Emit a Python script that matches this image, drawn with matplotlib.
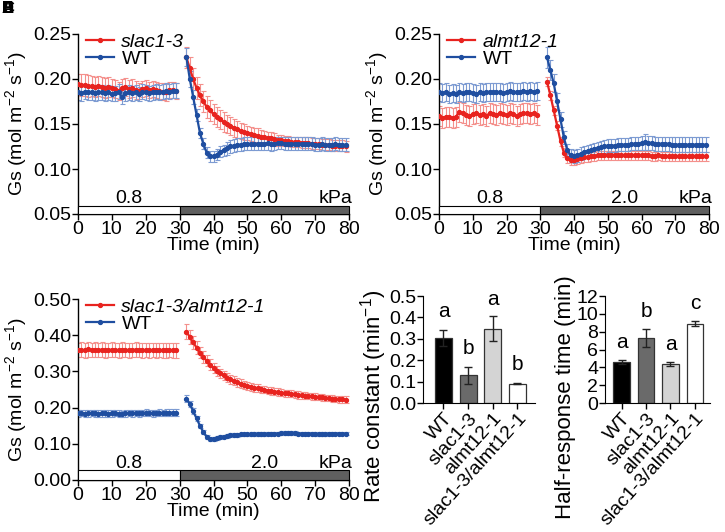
import matplotlib
matplotlib.use("Agg")
import matplotlib.pyplot as plt
from matplotlib.patches import Rectangle
import matplotlib.transforms as mtransforms

plt.rcParams['font.family'] = ['Liberation Sans', 'DejaVu Sans']
plt.rcParams['font.size'] = 14
plt.rcParams['mathtext.default'] = 'regular'

# ---------------- data ----------------
t_pre = list(range(0, 30))
t_post = list(range(32, 80))

# Panel 1: slac1-3 vs WT
p1_mut_pre = [0.194, 0.193, 0.193, 0.192, 0.192, 0.191, 0.192, 0.191, 0.190, 0.191,
              0.190, 0.189, 0.187, 0.190, 0.191, 0.189, 0.190, 0.188, 0.187, 0.189,
              0.190, 0.188, 0.189, 0.188, 0.187, 0.186, 0.185, 0.188, 0.188, 0.187]
p1_mut_pre_err = [0.012, 0.012, 0.012, 0.012, 0.011, 0.011, 0.011, 0.011, 0.011, 0.011,
                  0.010, 0.010, 0.010, 0.010, 0.010, 0.010, 0.010, 0.010, 0.009, 0.009,
                  0.009, 0.009, 0.009, 0.009, 0.009, 0.009, 0.009, 0.009, 0.009, 0.009]
p1_wt_pre = [0.185, 0.184, 0.186, 0.185, 0.185, 0.184, 0.185, 0.185, 0.184, 0.185,
             0.183, 0.184, 0.186, 0.180, 0.184, 0.185, 0.184, 0.185, 0.183, 0.186,
             0.185, 0.184, 0.185, 0.186, 0.185, 0.186, 0.187, 0.186, 0.187, 0.187]
p1_wt_pre_err = [0.008] * 30
p1_mut_post = [0.224, 0.212, 0.200, 0.190, 0.182, 0.175, 0.169, 0.165, 0.161, 0.158,
               0.155, 0.152, 0.150, 0.148, 0.146, 0.144, 0.142, 0.141, 0.140, 0.139,
               0.138, 0.137, 0.136, 0.135, 0.134, 0.134, 0.133, 0.132, 0.132, 0.131,
               0.131, 0.130, 0.130, 0.130, 0.129, 0.129, 0.129, 0.128, 0.128, 0.128,
               0.127, 0.127, 0.127, 0.126, 0.126, 0.126, 0.126, 0.125]
p1_mut_post_err = [0.012, 0.012, 0.012, 0.012, 0.012, 0.012, 0.012, 0.012, 0.011, 0.011,
                   0.011, 0.011, 0.010, 0.010, 0.010, 0.009, 0.009, 0.009, 0.008, 0.008,
                   0.008, 0.008, 0.007, 0.007, 0.007, 0.007, 0.007, 0.006, 0.006, 0.006,
                   0.006, 0.006, 0.006, 0.006, 0.006, 0.006, 0.006, 0.006, 0.006, 0.006,
                   0.006, 0.006, 0.006, 0.006, 0.006, 0.006, 0.006, 0.006]
p1_wt_post = [0.224, 0.200, 0.180, 0.160, 0.140, 0.128, 0.118, 0.114, 0.114, 0.116,
              0.119, 0.121, 0.123, 0.125, 0.126, 0.127, 0.127, 0.128, 0.128, 0.128,
              0.128, 0.128, 0.128, 0.128, 0.129, 0.128, 0.128, 0.129, 0.129, 0.128,
              0.128, 0.128, 0.128, 0.128, 0.128, 0.128, 0.128, 0.128, 0.127, 0.127,
              0.128, 0.127, 0.127, 0.127, 0.128, 0.127, 0.127, 0.127]
p1_wt_post_err = [0.010, 0.009, 0.008, 0.007, 0.006, 0.006, 0.006, 0.006, 0.006, 0.006,
                  0.006, 0.006, 0.007, 0.007, 0.007, 0.007, 0.007, 0.007, 0.007, 0.007,
                  0.007, 0.007, 0.007, 0.007, 0.008, 0.008, 0.007, 0.007, 0.007, 0.007,
                  0.007, 0.007, 0.007, 0.007, 0.007, 0.007, 0.007, 0.007, 0.007, 0.007,
                  0.007, 0.007, 0.007, 0.007, 0.007, 0.007, 0.007, 0.007]

# Panel 2: almt12-1 vs WT
p2_mut_pre = [0.159, 0.157, 0.158, 0.158, 0.157, 0.158, 0.163, 0.162, 0.160, 0.159,
              0.161, 0.162, 0.160, 0.161, 0.159, 0.162, 0.161, 0.160, 0.162, 0.161,
              0.160, 0.162, 0.161, 0.159, 0.161, 0.162, 0.162, 0.161, 0.162, 0.160]
p2_mut_pre_err = [0.011] * 30
p2_wt_pre = [0.185, 0.184, 0.186, 0.183, 0.184, 0.183, 0.185, 0.184, 0.185, 0.186,
             0.184, 0.183, 0.185, 0.184, 0.185, 0.186, 0.185, 0.186, 0.185, 0.184,
             0.186, 0.187, 0.186, 0.185, 0.186, 0.187, 0.186, 0.187, 0.186, 0.187]
p2_wt_pre_err = [0.010] * 30
p2_mut_post = [0.197, 0.182, 0.165, 0.148, 0.131, 0.118, 0.112, 0.110, 0.110, 0.111,
               0.112, 0.113, 0.113, 0.114, 0.114, 0.115, 0.115, 0.115, 0.115, 0.115,
               0.115, 0.115, 0.115, 0.115, 0.115, 0.115, 0.115, 0.115, 0.115, 0.115,
               0.115, 0.114, 0.114, 0.115, 0.114, 0.114, 0.114, 0.114, 0.114, 0.114,
               0.114, 0.114, 0.114, 0.114, 0.114, 0.114, 0.114, 0.114]
p2_mut_post_err = [0.005] * 48
p2_wt_post = [0.224, 0.210, 0.195, 0.175, 0.155, 0.135, 0.121, 0.115, 0.114, 0.115,
              0.117, 0.119, 0.120, 0.121, 0.122, 0.123, 0.124, 0.125, 0.126, 0.126,
              0.126, 0.127, 0.127, 0.127, 0.127, 0.128, 0.128, 0.128, 0.129, 0.130,
              0.129, 0.129, 0.128, 0.128, 0.128, 0.128, 0.128, 0.127, 0.127, 0.127,
              0.127, 0.127, 0.127, 0.127, 0.127, 0.127, 0.127, 0.127]
p2_wt_post_err = [0.012, 0.011, 0.010, 0.009, 0.008, 0.007, 0.007, 0.007, 0.007, 0.007,
                  0.007, 0.007, 0.007, 0.007, 0.007, 0.007, 0.007, 0.007, 0.007, 0.007,
                  0.007, 0.007, 0.007, 0.007, 0.007, 0.007, 0.007, 0.007, 0.008, 0.009,
                  0.008, 0.008, 0.008, 0.008, 0.008, 0.008, 0.008, 0.008, 0.008, 0.008,
                  0.008, 0.008, 0.008, 0.008, 0.008, 0.008, 0.008, 0.008]

# Panel 3: slac1-3/almt12-1 vs WT
p3_mut_pre = [0.359, 0.360, 0.358, 0.361, 0.359, 0.360, 0.359, 0.360, 0.358, 0.359,
              0.360, 0.359, 0.358, 0.360, 0.359, 0.358, 0.359, 0.360, 0.359, 0.358,
              0.359, 0.358, 0.359, 0.358, 0.359, 0.358, 0.358, 0.359, 0.358, 0.358]
p3_mut_pre_err = [0.020] * 30
p3_wt_pre = [0.184, 0.185, 0.183, 0.184, 0.185, 0.184, 0.183, 0.184, 0.184, 0.183,
             0.184, 0.185, 0.183, 0.182, 0.184, 0.185, 0.184, 0.185, 0.184, 0.185,
             0.186, 0.185, 0.184, 0.185, 0.186, 0.185, 0.186, 0.186, 0.186, 0.186]
p3_wt_pre_err = [0.009] * 30
p3_mut_post = [0.410, 0.395, 0.380, 0.366, 0.352, 0.340, 0.329, 0.319, 0.310, 0.302,
               0.295, 0.289, 0.283, 0.278, 0.274, 0.270, 0.266, 0.263, 0.260, 0.258,
               0.255, 0.253, 0.251, 0.249, 0.247, 0.246, 0.244, 0.243, 0.241, 0.240,
               0.239, 0.238, 0.237, 0.235, 0.234, 0.233, 0.232, 0.231, 0.230, 0.229,
               0.228, 0.227, 0.226, 0.225, 0.224, 0.223, 0.223, 0.222]
p3_mut_post_err = [0.020, 0.019, 0.018, 0.017, 0.016, 0.016, 0.015, 0.015, 0.014, 0.014,
                   0.013, 0.013, 0.013, 0.012, 0.012, 0.012, 0.012, 0.011, 0.011, 0.011,
                   0.011, 0.011, 0.010, 0.010, 0.010, 0.010, 0.010, 0.010, 0.010, 0.010,
                   0.010, 0.010, 0.010, 0.010, 0.010, 0.009, 0.009, 0.009, 0.009, 0.009,
                   0.009, 0.009, 0.009, 0.009, 0.009, 0.009, 0.009, 0.009]
p3_wt_post = [0.225, 0.210, 0.190, 0.170, 0.150, 0.132, 0.119, 0.114, 0.114, 0.116,
              0.118, 0.120, 0.122, 0.124, 0.125, 0.125, 0.126, 0.126, 0.126, 0.127,
              0.127, 0.127, 0.127, 0.127, 0.128, 0.128, 0.128, 0.128, 0.129, 0.129,
              0.130, 0.129, 0.129, 0.128, 0.128, 0.128, 0.128, 0.128, 0.127, 0.127,
              0.127, 0.127, 0.128, 0.128, 0.128, 0.128, 0.128, 0.128]
p3_wt_post_err = [0.010, 0.009, 0.008, 0.007, 0.006, 0.005, 0.005, 0.005, 0.005, 0.005,
                  0.005, 0.005, 0.005, 0.005, 0.005, 0.005, 0.005, 0.005, 0.005, 0.005,
                  0.005, 0.005, 0.005, 0.005, 0.005, 0.005, 0.005, 0.005, 0.006, 0.006,
                  0.006, 0.005, 0.005, 0.005, 0.005, 0.005, 0.005, 0.005, 0.005, 0.005,
                  0.005, 0.005, 0.005, 0.005, 0.005, 0.005, 0.005, 0.005]

# Bar charts
genotypes = ['WT', 'slac1-3', 'almt12-1', 'slac1-3/almt12-1']
rate_const = [0.305, 0.130, 0.348, 0.091]
rate_err = [0.038, 0.040, 0.057, 0.003]
rate_letters = ['a', 'b', 'a', 'b']
half_time = [4.6, 7.3, 4.4, 8.9]
half_err = [0.25, 1.0, 0.2, 0.3]
half_letters = ['a', 'b', 'a', 'c']
bar_colors = ['#000000', '#6a6a6a', '#d4d4d4', '#ffffff']

RED = '#e8231f'
RED_L = '#f4908c'
BLUE = '#1f4ea0'
BLUE_L = '#7d9bd2'
FS = 14

W, H = 725, 532
fig = plt.figure(figsize=(W / 100, H / 100), dpi=100)


def ax_px(l, t, r, b):
    return fig.add_axes([l / W, 1 - b / H, (r - l) / W, (b - t) / H])


def draw_series(ax, pre, pre_err, post, post_err, color, ecolor, label):
    for tt, yy, ee, lab in ((t_pre, pre, pre_err, label), (t_post, post, post_err, None)):
        ax.errorbar(tt, yy, yerr=ee, fmt='none', ecolor=ecolor, elinewidth=0.8,
                    capsize=1.8, capthick=0.8, zorder=2)
        ax.plot(tt, yy, '-o', color=color, ms=2.8, lw=1.6, label=lab, zorder=3)


def style_time_axis(ax, ylim, yticks, ytl, bar_h, txt_off):
    ax.set_xlim(0, 80)
    ax.set_ylim(*ylim)
    ax.set_xticks(range(0, 81, 10))
    ax.set_yticks(yticks)
    ax.set_yticklabels(ytl)
    for s in ('top', 'right'):
        ax.spines[s].set_visible(False)
    for s in ('left', 'bottom'):
        ax.spines[s].set_linewidth(1.0)
    ax.tick_params(labelsize=FS, width=1.0, length=4, pad=1)
    ax.set_xlabel('Time (min)', fontsize=FS, labelpad=-1)
    ax.set_ylabel('Gs (mol m$^{-2}$ s$^{-1}$)', fontsize=FS, labelpad=3)
    tr = mtransforms.blended_transform_factory(ax.transData, ax.transAxes)
    ax.add_patch(Rectangle((0, 0), 30, bar_h, transform=tr, facecolor='white',
                           edgecolor='black', lw=0.8, clip_on=False, zorder=4))
    ax.add_patch(Rectangle((30, 0), 50, bar_h, transform=tr, facecolor='#5f5f5f',
                           edgecolor='black', lw=0.8, clip_on=False, zorder=4))
    ax.text(15, bar_h + txt_off, '0.8', transform=tr, ha='center', va='baseline', fontsize=FS)
    ax.text(55, bar_h + txt_off, '2.0', transform=tr, ha='center', va='baseline', fontsize=FS)
    ax.text(81, bar_h + txt_off, 'kPa', transform=tr, ha='right', va='baseline', fontsize=FS)


def add_legend(ax):
    leg = ax.legend(loc='upper left', bbox_to_anchor=(-0.012, 1.07), frameon=False,
                    fontsize=FS, handlelength=1.4, handletextpad=0.4, labelspacing=0.0,
                    borderaxespad=0.2)
    for txt in leg.get_texts():
        if txt.get_text() != 'WT':
            txt.set_fontstyle('italic')


# Panel 1
ax1 = ax_px(78, 34, 349, 214)
draw_series(ax1, p1_mut_pre, p1_mut_pre_err, p1_mut_post, p1_mut_post_err, RED, RED_L, 'slac1-3')
draw_series(ax1, p1_wt_pre, p1_wt_pre_err, p1_wt_post, p1_wt_post_err, BLUE, BLUE_L, 'WT')
style_time_axis(ax1, (0.05, 0.25), [0.05, 0.10, 0.15, 0.20, 0.25],
                ['0.05', '0.10', '0.15', '0.20', '0.25'], 0.045, 0.017)
add_legend(ax1)

# Panel 2
ax2 = ax_px(439, 34, 709, 214)
draw_series(ax2, p2_mut_pre, p2_mut_pre_err, p2_mut_post, p2_mut_post_err, RED, RED_L, 'almt12-1')
draw_series(ax2, p2_wt_pre, p2_wt_pre_err, p2_wt_post, p2_wt_post_err, BLUE, BLUE_L, 'WT')
style_time_axis(ax2, (0.05, 0.25), [0.05, 0.10, 0.15, 0.20, 0.25],
                ['0.05', '0.10', '0.15', '0.20', '0.25'], 0.045, 0.017)
add_legend(ax2)

# Panel 3
ax3 = ax_px(78, 299, 349, 480)
draw_series(ax3, p3_mut_pre, p3_mut_pre_err, p3_mut_post, p3_mut_post_err, RED, RED_L, 'slac1-3/almt12-1')
draw_series(ax3, p3_wt_pre, p3_wt_pre_err, p3_wt_post, p3_wt_post_err, BLUE, BLUE_L, 'WT')
style_time_axis(ax3, (0.0, 0.5), [0.0, 0.1, 0.2, 0.3, 0.4, 0.5],
                ['0.00', '0.10', '0.20', '0.30', '0.40', '0.50'], 0.055, 0.012)
add_legend(ax3)


def bar_panel(ax, vals, errs, letters, ylim, yticks, ytl, ylabel, xlim, letter_y, lab_xy):
    x = list(range(len(genotypes)))
    ax.bar(x, vals, width=0.68, color=bar_colors, edgecolor='#333333', lw=0.9, zorder=2)
    ax.errorbar(x, vals, yerr=errs, fmt='none', ecolor='#222222', elinewidth=1.0,
                capsize=3, capthick=1.0, zorder=3)
    for xi, lt, ly in zip(x, letters, letter_y):
        ax.text(xi, ly, lt, ha='center', va='baseline', fontsize=15)
    ax.set_xlim(*xlim)
    ax.set_ylim(*ylim)
    ax.set_yticks(yticks)
    ax.set_yticklabels(ytl)
    ax.set_xticks(x)
    ax.set_xticklabels(genotypes, rotation=48, ha='right', rotation_mode='anchor', fontsize=15)
    for s in ('top', 'right'):
        ax.spines[s].set_visible(False)
    ax.tick_params(labelsize=FS, width=1.0, length=4, pad=1)
    ax.set_ylabel(ylabel, fontsize=16)
    ax.yaxis.set_label_coords(*lab_xy)


ax4 = ax_px(423, 296, 535, 403)
bar_panel(ax4, rate_const, rate_err, rate_letters, (0, 0.5), [0, 0.1, 0.2, 0.3, 0.4, 0.5],
          ['0.0', '0.1', '0.2', '0.3', '0.4', '0.5'], 'Rate constant (min$^{-1}$)',
          (-0.83, 3.71), [0.40, 0.23, 0.46, 0.152], (-0.30, 0.065))

ax5 = ax_px(605, 296, 710, 403)
bar_panel(ax5, half_time, half_err, half_letters, (0, 12), [0, 2, 4, 6, 8, 10, 12],
          ['0', '2', '4', '6', '8', '10', '12'], 'Half-response time (min)',
          (-0.68, 3.62), [6.17, 9.64, 5.9, 10.5], (-0.28, 0.056))

# overlapping panel letters in the corner
for lt in ['A', 'B', 'C', 'D', 'E']:
    fig.text(2 / W, 1 - 1 / H, lt, ha='left', va='top', fontsize=12, fontweight='bold')

fig.savefig('out.png', dpi=100)
